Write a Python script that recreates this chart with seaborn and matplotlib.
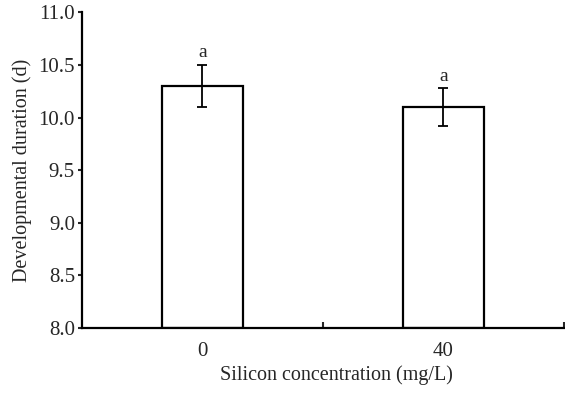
import matplotlib
matplotlib.use("Agg")
import matplotlib.pyplot as plt
import seaborn as sns
import pandas as pd
import numpy as np

categories = ["0", "40"]
means = [10.30, 10.10]
errors = [0.20, 0.18]
letters = ["a", "a"]

sns.set_theme(style="ticks")
plt.rcParams['font.family'] = ['Liberation Serif', 'DejaVu Serif']

df = pd.DataFrame({"conc": categories, "dur": means})

fig = plt.figure(figsize=(5.65, 3.93), dpi=100)
ax = fig.add_axes([0.145, 0.165, 0.853, 0.804])

sns.barplot(data=df, x="conc", y="dur", ax=ax, width=0.336,
            color="white", edgecolor="black", linewidth=1.6, errorbar=None)
# bars start from axis bottom
for p, m in zip(ax.patches, means):
    p.set_y(8.0)
    p.set_height(m - 8.0)

xs = np.arange(len(categories))
ax.errorbar(xs, means, yerr=errors, fmt="none", ecolor="black",
            elinewidth=1.3, capsize=3.5, capthick=1.3)
for x, m, e, l in zip(xs, means, errors, letters):
    ax.annotate(l, (x, m + e), xytext=(0, 2.5), textcoords="offset points",
                ha="center", va="bottom", fontsize=14)

fs = 15
ax.set_ylim(8.0, 11.0)
ax.set_xlim(-0.5, 1.5)
ax.set_yticks([8.0, 8.5, 9.0, 9.5, 10.0, 10.5, 11.0])
ax.set_yticklabels(["8.0", "8.5", "9.0", "9.5", "10.0", "10.5", "11.0"])
ax.tick_params(axis="y", direction="out", length=3, width=1.5, labelsize=fs, pad=2)

ax.set_xticks([0.5, 1.5])
ax.set_xticklabels(["", ""])
ax.tick_params(axis="x", which="major", direction="in", length=4, width=1.5)
ax.set_xticks(xs, minor=True)
ax.set_xticklabels(categories, minor=True)
ax.tick_params(axis="x", which="minor", length=0, labelsize=fs, pad=10)

for s in ["top", "right"]:
    ax.spines[s].set_visible(False)
for s in ["left", "bottom"]:
    ax.spines[s].set_linewidth(1.6)
    ax.spines[s].set_color("black")

ax.set_xlabel("Silicon concentration (mg/L)", fontsize=14.5, labelpad=3)
ax.xaxis.label.set_x(0.529)
ax.set_ylabel("Developmental duration (d)", fontsize=14.5, labelpad=5)

fig.savefig("out.png", dpi=100)
